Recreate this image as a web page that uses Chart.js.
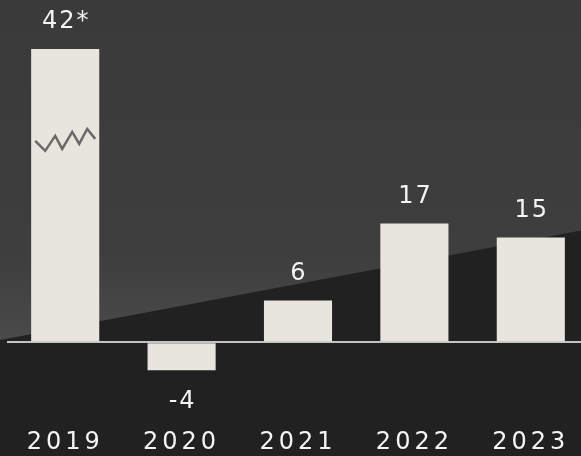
<!DOCTYPE html>
<html>
<head>
<meta charset="utf-8">
<script src="https://cdn.jsdelivr.net/npm/chart.js@4/dist/chart.umd.min.js"></script>
<style>
  html, body { margin: 0; padding: 0; overflow: hidden; background: #222; }
  #wrap { width: 589px; height: 456px; position: relative; }
</style>
</head>
<body>
<div id="wrap"><canvas id="c"></canvas></div>
<script>
const years = ['2019', '2020', '2021', '2022', '2023'];
const values = [42, -4, 6, 17, 15];
const valueLabels = ['42*', '-4', '6', '17', '15'];
const brokenBars = [0];

const FONT = '"DejaVu Sans", Verdana, sans-serif';

const bgPlugin = {
  id: 'bg',
  beforeDraw(chart) {
    const ctx = chart.ctx;
    const w = chart.width, h = chart.height;
    ctx.save();
    ctx.fillStyle = '#212121';
    ctx.fillRect(0, 0, w, h);
    const g = ctx.createLinearGradient(0, 0, 0, 340);
    g.addColorStop(0, '#3a3a3a');
    g.addColorStop(0.75, '#3e3e3e');
    g.addColorStop(1, '#4a4a4a');
    ctx.fillStyle = g;
    ctx.beginPath();
    ctx.moveTo(0, 0);
    ctx.lineTo(w, 0);
    ctx.lineTo(w, 229);
    ctx.lineTo(0, 340);
    ctx.closePath();
    ctx.fill();
    ctx.restore();
    ctx.letterSpacing = '4px';
  }
};

const labelPlugin = {
  id: 'vlabels',
  afterDatasetsDraw(chart) {
    const ctx = chart.ctx;
    const meta = chart.getDatasetMeta(0);
    ctx.save();
    brokenBars.forEach(i => {
      const el = meta.data[i];
      const top = el.y;
      const pts = [[-30, 92], [-20, 102], [-10, 87], [-3, 100], [7, 83], [14, 95], [22, 80], [30, 90]];
      ctx.beginPath();
      pts.forEach((p, k) => {
        const x = el.x + p[0], y = top + p[1];
        if (k === 0) ctx.moveTo(x, y); else ctx.lineTo(x, y);
      });
      ctx.strokeStyle = '#6a6a6a';
      ctx.lineWidth = 2.5;
      ctx.lineJoin = 'miter';
      ctx.stroke();
    });
    ctx.fillStyle = '#f4f4f4';
    ctx.font = '24px ' + FONT;
    ctx.letterSpacing = '2px';
    ctx.textAlign = 'center';
    ctx.textBaseline = 'middle';
    meta.data.forEach((el, i) => {
      const v = values[i];
      const y = v >= 0 ? el.y - 27 : el.y + 31;
      ctx.fillText(valueLabels[i], el.x + 1, y);
    });
    ctx.restore();
  }
};

new Chart(document.getElementById('c'), {
  type: 'bar',
  data: {
    labels: years,
    datasets: [{
      data: values,
      backgroundColor: '#e8e5df',
      borderWidth: 0,
      categoryPercentage: 1,
      barPercentage: 0.585
    }]
  },
  options: {
    responsive: true,
    maintainAspectRatio: false,
    animation: false,
    layout: { padding: { left: 7, right: 0, top: 0, bottom: -17 } },
    plugins: { legend: { display: false }, tooltip: { enabled: false } },
    scales: {
      x: {
        grid: { display: false, drawTicks: false },
        border: { display: false },
        ticks: {
          color: '#f4f4f4',
          font: { family: FONT, size: 24 },
          padding: 16,
          autoSkip: false,
          maxRotation: 0,
          minRotation: 0
        }
      },
      y: {
        min: -10,
        max: 49,
        grid: {
          drawTicks: false,
          lineWidth: 2,
          color: ctx => (ctx.tick && ctx.tick.value === 0) ? '#c4c4c4' : 'rgba(0,0,0,0)'
        },
        border: { display: false },
        ticks: { display: false, stepSize: 1 }
      }
    }
  },
  plugins: [bgPlugin, labelPlugin]
});
</script>
</body>
</html>
